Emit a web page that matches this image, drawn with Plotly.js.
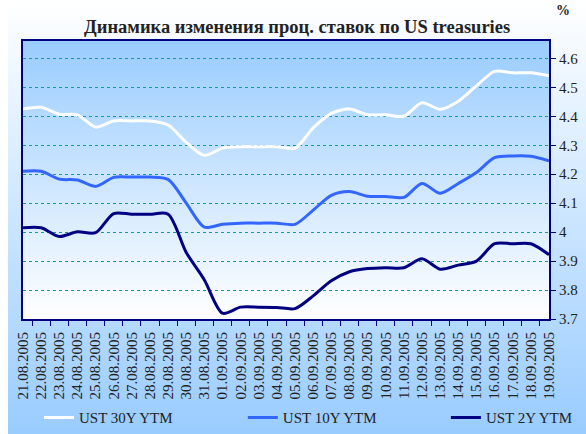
<!DOCTYPE html>
<html>
<head>
<meta charset="utf-8">
<script src="https://cdn.plot.ly/plotly-3.0.1.min.js"></script>
<style>
  html, body { margin: 0; padding: 0; background: #ffffff; }
  #chart {
    width: 586px; height: 434px;
    background: linear-gradient(to bottom, #ffffff 0%, #99ccff 100%) no-repeat 8px 0 / 578px 434px, #ffffff;
  }
</style>
</head>
<body>
<div id="chart"></div>
<script>
const dates = ["21.08.2005","22.08.2005","23.08.2005","24.08.2005","25.08.2005","26.08.2005","27.08.2005","28.08.2005","29.08.2005","30.08.2005","31.08.2005","01.09.2005","02.09.2005","03.09.2005","04.09.2005","05.09.2005","06.09.2005","07.09.2005","08.09.2005","09.09.2005","10.09.2005","11.09.2005","12.09.2005","13.09.2005","14.09.2005","15.09.2005","16.09.2005","17.09.2005","18.09.2005","19.09.2005"];

const ust30 = [4.425,4.431,4.407,4.405,4.363,4.384,4.384,4.384,4.37,4.31,4.265,4.29,4.295,4.295,4.295,4.29,4.36,4.41,4.425,4.405,4.405,4.40,4.447,4.424,4.452,4.505,4.555,4.55,4.55,4.54];
const ust10 = [4.21,4.21,4.183,4.18,4.158,4.189,4.19,4.19,4.182,4.10,4.017,4.027,4.031,4.031,4.031,4.027,4.076,4.127,4.14,4.124,4.123,4.12,4.168,4.134,4.168,4.206,4.257,4.263,4.262,4.246];
const ust2  = [4.015,4.015,3.985,4.001,3.998,4.064,4.062,4.062,4.062,3.93,3.835,3.72,3.741,3.741,3.74,3.736,3.78,3.832,3.863,3.874,3.877,3.877,3.908,3.872,3.886,3.90,3.96,3.96,3.96,3.922];

const seriesNames = ["UST 30Y YTM", "UST 10Y YTM", "UST 2Y YTM"];
const seriesColors = ["#ffffff", "#3366ff", "#000080"];
const seriesData = [ust30, ust10, ust2];
const legendIds = ["legend", "legend2", "legend3"];

const traces = seriesData.map((vals, i) => ({
  x: dates,
  y: vals,
  type: "scatter",
  mode: "lines",
  name: seriesNames[i],
  legend: legendIds[i],
  line: { color: seriesColors[i], width: 3, shape: "spline", smoothing: 0.8 },
  hoverinfo: "skip"
}));

const gradSvg = '<svg xmlns="http://www.w3.org/2000/svg" width="100" height="100" preserveAspectRatio="none">' +
  '<defs><linearGradient id="g" x1="0" y1="0" x2="0" y2="1">' +
  '<stop offset="0" stop-color="#99ccff"/><stop offset="1" stop-color="#ffffff"/>' +
  '</linearGradient></defs><rect width="100" height="100" fill="url(#g)"/></svg>';

const serif = "Liberation Serif, Times New Roman, serif";

function legendAt(xPos) {
  return {
    orientation: "h",
    x: xPos, xanchor: "left",
    y: -0.355, yanchor: "middle",
    bgcolor: "rgba(0,0,0,0)",
    font: { family: serif, size: 15, color: "#222222" }
  };
}

const layout = {
  width: 586,
  height: 434,
  margin: { l: 23, r: 37, t: 41, b: 115, autoexpand: false },
  paper_bgcolor: "rgba(0,0,0,0)",
  plot_bgcolor: "rgba(0,0,0,0)",
  font: { family: serif, size: 15, color: "#222222" },
  title: {
    text: "<b>Динамика изменения проц. ставок по US treasuries</b>",
    font: { family: serif, size: 18.5, color: "#222222" },
    xref: "container", x: 0.507, xanchor: "center",
    yref: "container", y: 0.94, yanchor: "middle"
  },
  images: [{
    source: "data:image/svg+xml;charset=utf-8," + encodeURIComponent(gradSvg),
    xref: "paper", yref: "paper",
    x: 0, y: 1, sizex: 1, sizey: 1,
    xanchor: "left", yanchor: "top",
    sizing: "stretch", layer: "below"
  }],
  xaxis: {
    type: "category",
    showgrid: false,
    zeroline: false,
    showline: true, linecolor: "#000080", linewidth: 2, mirror: true,
    ticks: "outside", tickson: "boundaries", ticklen: 5, tickcolor: "#000080", tickwidth: 1,
    tickangle: -90,
    ticklabelstandoff: 5,
    tickfont: { family: serif, size: 15, color: "#222222" },
    fixedrange: true
  },
  yaxis: {
    side: "right",
    range: [3.7, 4.66],
    dtick: 0.1,
    tick0: 3.7,
    showgrid: true, gridcolor: "#139a9a", gridwidth: 1, griddash: "dot",
    zeroline: false,
    showline: true, linecolor: "#000080", linewidth: 2, mirror: true,
    ticks: "outside", ticklen: 5, tickcolor: "#000080", tickwidth: 1,
    tickfont: { family: serif, size: 15, color: "#222222" },
    fixedrange: true
  },
  legend: legendAt(0.0304),
  legend2: legendAt(0.418),
  legend3: legendAt(0.804),
  annotations: [{
    text: "<b>%</b>",
    xref: "paper", yref: "paper",
    x: 1.027, y: 1.108,
    xanchor: "center", yanchor: "middle",
    showarrow: false,
    font: { family: serif, size: 14, color: "#222222" }
  }],
  showlegend: true
};

Plotly.newPlot("chart", traces, layout, { displayModeBar: false, staticPlot: true });
</script>
</body>
</html>
